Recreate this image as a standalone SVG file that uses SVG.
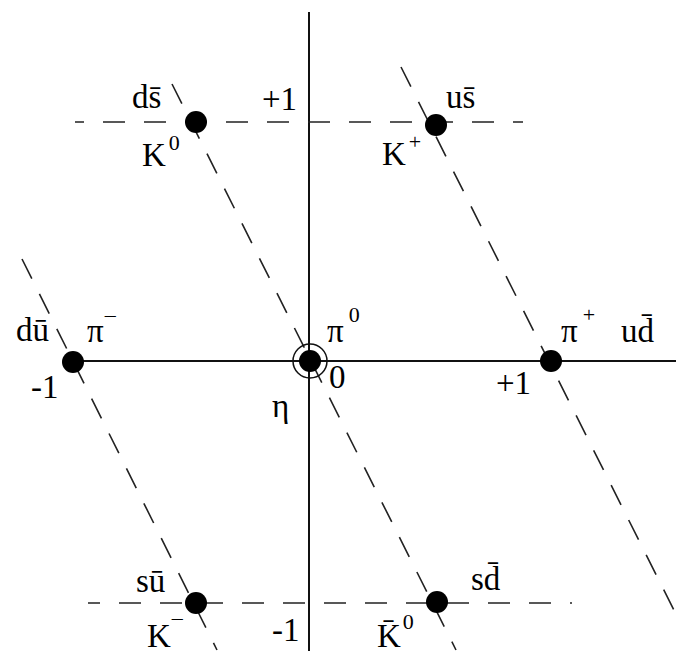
<svg xmlns="http://www.w3.org/2000/svg" width="676" height="656" viewBox="0 0 676 656">
<style>
.ax{stroke:#111;stroke-width:2;fill:none}
.dh{stroke:#222;stroke-width:1.6;fill:none;stroke-dasharray:22 19}
.dd{stroke:#222;stroke-width:1.6;fill:none;stroke-dasharray:22 17}
.dot{fill:#000}
.t{font-family:"Liberation Serif","Times New Roman",serif;font-size:33px;fill:#000}
.s{font-size:22px}
</style>
<rect width="676" height="656" fill="#fff"/>
<g id="connectors">
<line class="ax" x1="309" y1="12" x2="309" y2="651"/>
<line class="ax" x1="73" y1="361" x2="676" y2="361"/>
<line class="dh" x1="75" y1="122" x2="523" y2="122" stroke-dashoffset="13"/>
<line class="dh" x1="88" y1="603" x2="572" y2="603" stroke-dasharray="22 18" stroke-dashoffset="10"/>
<line class="dd" x1="22" y1="259" x2="217" y2="650"/>
<line class="dd" x1="172" y1="84" x2="456" y2="650"/>
<line class="dd" x1="401" y1="67" x2="697" y2="656"/>
</g>
<g id="axis-labels">
<text class="t" x="262" y="110">+1</text>
<text class="t" x="31" y="398">-1</text>
<text class="t" x="329" y="388">0</text>
<text class="t" x="496" y="394">+1</text>
<text class="t" x="272" y="641">-1</text>
</g>
<g id="K0">
<circle class="dot" cx="196" cy="122" r="11"/>
<text class="t" x="132" y="108">ds&#x304;</text>
<text class="t" x="142" y="166">K<tspan class="s" dx="3" dy="-16">0</tspan></text>
</g>
<g id="Kplus">
<circle class="dot" cx="436" cy="125" r="11"/>
<text class="t" x="446" y="108">us&#x304;</text>
<text class="t" x="382" y="165">K<tspan class="s" dx="3" dy="-16">+</tspan></text>
</g>
<g id="piminus">
<circle class="dot" cx="73" cy="362" r="11"/>
<text class="t" x="16" y="341">d&#x16B;</text>
<text class="t" x="87" y="342">π<tspan class="s" dx="1" dy="-20">&#x2012;</tspan></text>
</g>
<g id="pi0eta">
<circle cx="310" cy="361" r="17" fill="none" stroke="#111" stroke-width="1.5"/>
<circle class="dot" cx="310" cy="361" r="11"/>
<text class="t" x="327" y="342">π<tspan class="s" dx="5" dy="-20">0</tspan></text>
<text class="t" x="272" y="417">η</text>
</g>
<g id="piplus">
<circle class="dot" cx="551" cy="361" r="11"/>
<text class="t" x="561" y="342">π<tspan class="s" dx="5" dy="-20">+</tspan></text>
<text class="t" x="621" y="342">ud&#x304;</text>
</g>
<g id="Kminus">
<circle class="dot" cx="196" cy="603" r="11"/>
<text class="t" x="136" y="592">s&#x16B;</text>
<text class="t" x="147" y="647">K<tspan class="s" dx="1" dy="-22">&#x2012;</tspan></text>
</g>
<g id="K0bar">
<circle class="dot" cx="437" cy="602" r="11"/>
<text class="t" x="471" y="590">sd&#x304;</text>
<text class="t" x="377" y="647">K&#x304;<tspan class="s" dx="2" dy="-18">0</tspan></text>
</g>
</svg>
